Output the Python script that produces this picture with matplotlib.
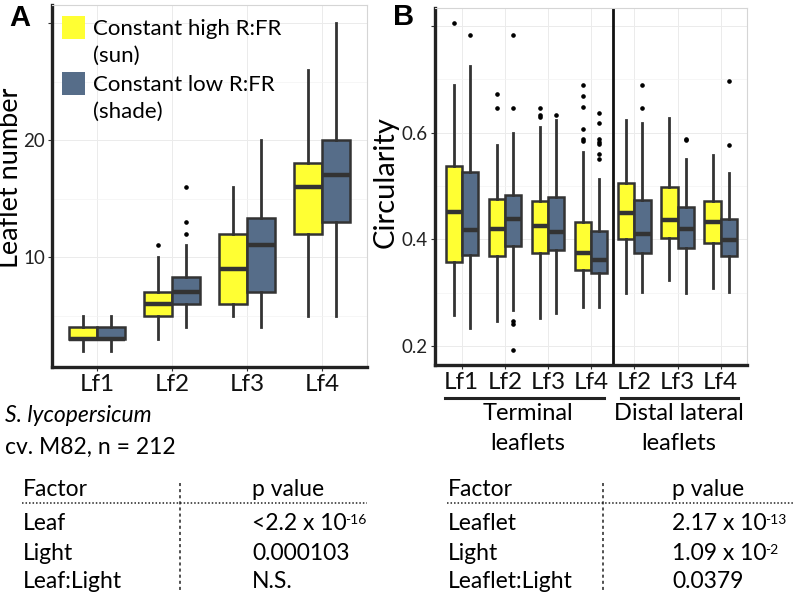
import matplotlib
matplotlib.use('Agg')
import matplotlib.pyplot as plt
from matplotlib.patches import Rectangle
from matplotlib.lines import Line2D

plt.rcParams['font.family'] = ['Lato', 'DejaVu Sans']

# ---- data: panel A (leaflet number) ----
leaves_A = ['Lf1', 'Lf2', 'Lf3', 'Lf4']
sun_A_lo = [2, 3, 5, 5]
sun_A_q1 = [3, 5, 6, 12]
sun_A_med = [3, 6, 9, 16]
sun_A_q3 = [4, 7, 12, 18]
sun_A_hi = [5, 10, 16, 26]
sun_A_out = [[], [11], [], []]
shade_A_lo = [2, 4, 4, 5]
shade_A_q1 = [3, 6, 7, 13]
shade_A_med = [3, 7, 11, 17]
shade_A_q3 = [4, 8.3, 13.3, 20]
shade_A_hi = [5, 11, 20, 30]
shade_A_out = [[], [12, 13, 16], [], []]

# ---- data: panel B (circularity) ----
leaves_B = ['Lf1', 'Lf2', 'Lf3', 'Lf4', 'Lf2', 'Lf3', 'Lf4']
sun_B_lo = [0.258, 0.247, 0.252, 0.273, 0.300, 0.324, 0.308]
sun_B_q1 = [0.358, 0.368, 0.374, 0.343, 0.400, 0.402, 0.394]
sun_B_med = [0.452, 0.419, 0.425, 0.374, 0.450, 0.436, 0.433]
sun_B_q3 = [0.538, 0.475, 0.472, 0.433, 0.505, 0.499, 0.471]
sun_B_hi = [0.689, 0.576, 0.611, 0.563, 0.624, 0.627, 0.558]
sun_B_out = [[0.805], [0.672, 0.647], [0.647, 0.633, 0.630],
             [0.689, 0.668, 0.648, 0.606, 0.588, 0.584], [], [], []]
shade_B_lo = [0.233, 0.268, 0.261, 0.274, 0.301, 0.300, 0.301]
shade_B_q1 = [0.371, 0.388, 0.380, 0.336, 0.374, 0.384, 0.369]
shade_B_med = [0.418, 0.438, 0.413, 0.361, 0.410, 0.419, 0.399]
shade_B_q3 = [0.527, 0.483, 0.479, 0.416, 0.474, 0.460, 0.438]
shade_B_hi = [0.725, 0.600, 0.624, 0.514, 0.618, 0.550, 0.524]
shade_B_out = [[0.784], [0.784, 0.647, 0.247, 0.241, 0.193], [0.633],
               [0.636, 0.619, 0.589, 0.583, 0.578, 0.560, 0.550],
               [0.689, 0.646], [0.589, 0.586], [0.697, 0.577]]

# ---- ANOVA tables (p value base, superscript exponent) ----
factors_A = ['Leaf', 'Light', 'Leaf:Light']
pvals_A = [('<2.2 x 10', '-16'), ('0.000103', ''), ('N.S.', '')]
factors_B = ['Leaflet', 'Light', 'Leaflet:Light']
pvals_B = [('2.17 x 10', '-13'), ('1.09 x 10', '-2'), ('0.0379', '')]

SUN = '#FFFF33'
SHADE = '#566D89'
EDGE = '#333333'
W, H = 793, 599
FS = 16.5


def fx(x):
    return x / W


def fy(y):
    return 1 - y / H


def stats(lo, q1, med, q3, hi, out):
    return [dict(whislo=a, q1=b, med=c, q3=d, whishi=e, fliers=f)
            for a, b, c, d, e, f in zip(lo, q1, med, q3, hi, out)]


def boxes(ax, st, pos, color):
    ax.bxp(st, positions=pos, widths=0.375, patch_artist=True, showcaps=False,
           boxprops=dict(facecolor=color, edgecolor=EDGE, linewidth=1.8),
           medianprops=dict(color=EDGE, linewidth=3.2, solid_capstyle='butt'),
           whiskerprops=dict(color=EDGE, linewidth=2.0),
           flierprops=dict(marker='o', markersize=2.3, markerfacecolor='black',
                           markeredgecolor='black'))


def style(ax):
    ax.set_facecolor('white')
    for s in ['top', 'right']:
        ax.spines[s].set_color('#D5D5D5')
        ax.spines[s].set_linewidth(0.8)
    for s in ['left', 'bottom']:
        ax.spines[s].set_color('#222222')
        ax.spines[s].set_linewidth(2.4)
    ax.grid(True, which='major', color='#EBEBEB', linewidth=0.7)
    ax.grid(True, which='minor', axis='y', color='#F3F3F3', linewidth=0.5)
    ax.set_axisbelow(True)
    ax.tick_params(axis='both', which='major', length=3, color='#333333', width=0.8)
    ax.tick_params(axis='y', which='minor', length=0)
    ax.tick_params(axis='y', labelsize=13.5, labelcolor='#222222', pad=2)
    ax.tick_params(axis='x', labelsize=17.5, labelcolor='#111111', pad=2)


fig = plt.figure(figsize=(7.93, 5.99), dpi=100)

# ---- panel A ----
axA = fig.add_axes([fx(52), fy(367), fx(367 - 52), (367 - 5) / H])
xA = list(range(1, len(leaves_A) + 1))
boxes(axA, stats(sun_A_lo, sun_A_q1, sun_A_med, sun_A_q3, sun_A_hi, sun_A_out),
      [x - 0.1875 for x in xA], SUN)
boxes(axA, stats(shade_A_lo, shade_A_q1, shade_A_med, shade_A_q3, shade_A_hi, shade_A_out),
      [x + 0.1875 for x in xA], SHADE)
axA.set_xlim(0.4, 4.6)
axA.set_ylim(0.6, 31.54)
axA.set_xticks(xA)
axA.set_xticklabels(leaves_A)
axA.set_yticks([10, 20, 30])
axA.set_yticklabels(['10', '20', ''])
axA.set_yticks([5, 15, 25], minor=True)
style(axA)

# ---- panel B ----
axB = fig.add_axes([fx(435), fy(365), fx(747 - 435), (365 - 8) / H])
xB = list(range(1, len(leaves_B) + 1))
boxes(axB, stats(sun_B_lo, sun_B_q1, sun_B_med, sun_B_q3, sun_B_hi, sun_B_out),
      [x - 0.1875 for x in xB], SUN)
boxes(axB, stats(shade_B_lo, shade_B_q1, shade_B_med, shade_B_q3, shade_B_hi, shade_B_out),
      [x + 0.1875 for x in xB], SHADE)
axB.set_xlim(0.38, 7.61)
axB.set_ylim(0.1643, 0.8338)
axB.set_xticks(xB)
axB.set_xticklabels(leaves_B)
axB.set_yticks([0.2, 0.4, 0.6, 0.8])
axB.set_yticklabels(['0.2', '0.4', '0.6', ''])
axB.set_yticks([0.3, 0.5, 0.7], minor=True)
style(axB)
axB.axvline(4.5, color='#111111', linewidth=2.0)

# brackets under panel B
trB = axB.get_xaxis_transform()
for x0, x1 in [(0.61, 4.30), (4.70, 7.41)]:
    axB.add_line(Line2D([x0, x1], [-0.0924, -0.0924], transform=trB,
                        color='#222222', linewidth=2.2, clip_on=False))

# axis titles and panel letters
fig.text(fx(11), fy(178), 'Leaflet number', rotation=90, ha='center', va='center', fontsize=19.5)
fig.text(fx(386), fy(182), 'Circularity', rotation=90, ha='center', va='center', fontsize=21)
fig.text(fx(20), fy(18), 'A', ha='center', va='center', fontsize=21,
         fontweight='bold', family='Liberation Sans')
fig.text(fx(404), fy(17), 'B', ha='center', va='center', fontsize=21,
         fontweight='bold', family='Liberation Sans')

# legend
for y0, col, l1, l2 in [(16, SUN, 'Constant high R:FR', '(sun)'),
                        (72, SHADE, 'Constant low R:FR', '(shade)')]:
    fig.patches.append(Rectangle((fx(62), fy(y0 + 23)), fx(23), 23 / H,
                                 transform=fig.transFigure, facecolor=col, edgecolor='none'))
    fig.text(fx(93), fy(y0 + 13), l1, ha='left', va='center', fontsize=16)
    fig.text(fx(93), fy(y0 + 40), l2, ha='left', va='center', fontsize=16)

# notes under the panels
fig.text(fx(5), fy(415), 'S. lycopersicum', style='italic', ha='left', va='center', fontsize=FS)
fig.text(fx(5), fy(447), 'cv. M82, n = 212', ha='left', va='center', fontsize=FS)
fig.text(fx(528), fy(413), 'Terminal', ha='center', va='center', fontsize=17)
fig.text(fx(528), fy(443), 'leaflets', ha='center', va='center', fontsize=17)
fig.text(fx(679), fy(413), 'Distal lateral', ha='center', va='center', fontsize=17)
fig.text(fx(679), fy(443), 'leaflets', ha='center', va='center', fontsize=17)

# ANOVA tables
rows_y = [523, 553, 582]
for x_f, x_sep, x_p, x_end, facs, pv in [(23, 180, 252, 367, factors_A, pvals_A),
                                        (448, 603, 672, 793, factors_B, pvals_B)]:
    fig.text(fx(x_f), fy(490), 'Factor', ha='left', va='center', fontsize=FS)
    fig.text(fx(x_p), fy(490), 'p value', ha='left', va='center', fontsize=FS)
    fig.lines.append(Line2D([fx(x_f - 1), fx(x_end)], [fy(503), fy(503)],
                            transform=fig.transFigure, color='#222222',
                            linewidth=1.1, linestyle=(0, (1, 1.3))))
    fig.lines.append(Line2D([fx(x_sep), fx(x_sep)], [fy(483), fy(592)],
                            transform=fig.transFigure, color='#222222',
                            linewidth=1.1, linestyle=(0, (2, 2))))
    for y, f, (base, sup) in zip(rows_y, facs, pv):
        fig.text(fx(x_f), fy(y), f, ha='left', va='center', fontsize=FS)
        t = fig.text(fx(x_p), fy(y), base, ha='left', va='center', fontsize=FS)
        if sup:
            fig.texts.append(t)
            plt.annotate(sup, xy=(1, 0.92), xycoords=t, xytext=(-0.8, 0),
                         textcoords='offset points', ha='left', va='top',
                         fontsize=10)
            fig.texts.pop()

fig.savefig('out.png', dpi=100)
